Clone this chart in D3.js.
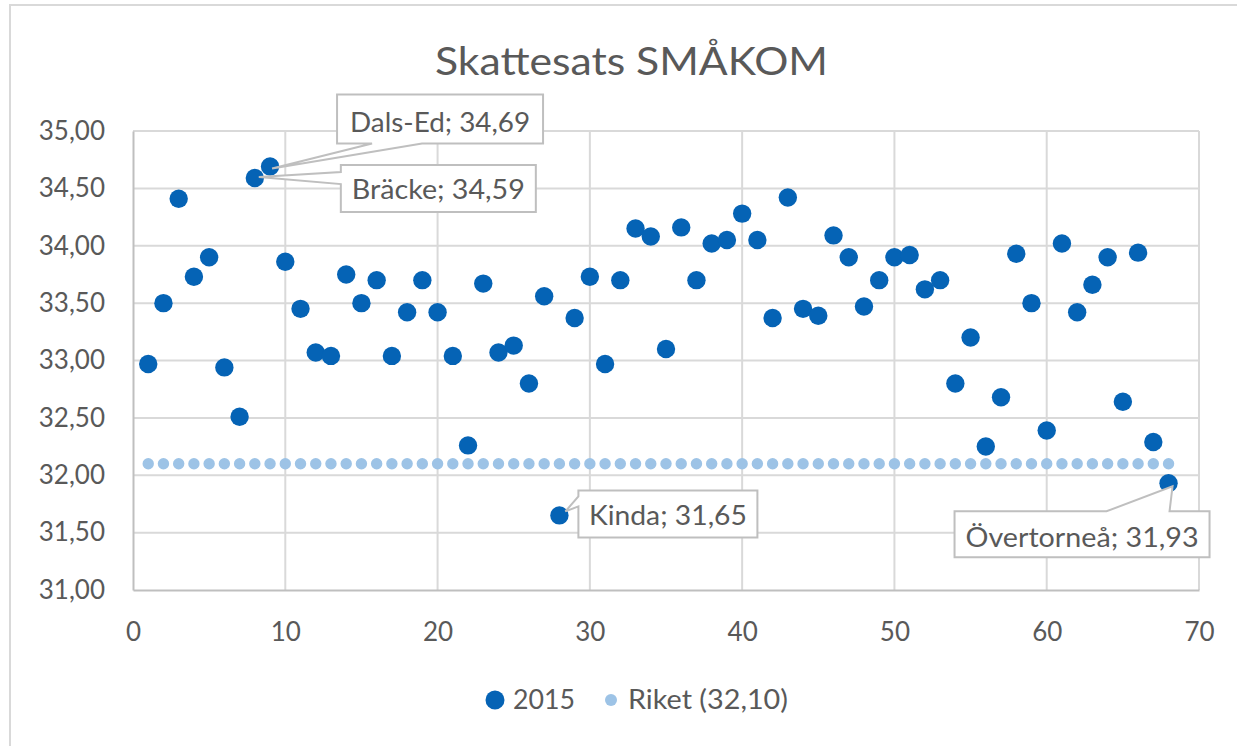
<!DOCTYPE html>
<html><head><meta charset="utf-8">
<script src="https://cdn.jsdelivr.net/npm/d3@7/dist/d3.min.js"></script>
<style>
body{margin:0;background:#fff;}
text{font-family:Lato,"Open Sans",sans-serif;fill:#595959;}
</style>
</head><body>
<svg id="chart" width="1237" height="746"></svg>
<script>
// ---------- data ----------
const titleText = "Skattesats SMÅKOM";
const xIndex = [1,2,3,4,5,6,7,8,9,10,11,12,13,14,15,16,17,18,19,20,21,22,23,24,25,26,27,28,29,30,31,32,33,34,
  35,36,37,38,39,40,41,42,43,44,45,46,47,48,49,50,51,52,53,54,55,56,57,58,59,60,61,62,63,64,65,66,67,68];
const series2015 = [32.97,33.50,34.41,33.73,33.90,32.94,32.51,34.59,34.69,33.86,33.45,33.07,33.04,33.75,33.50,33.70,33.04,33.42,
  33.70,33.42,33.04,32.26,33.67,33.07,33.13,32.80,33.56,31.65,33.37,33.73,32.97,33.70,34.15,34.08,33.10,34.16,33.70,
  34.02,34.05,34.28,34.05,33.37,34.42,33.45,33.39,34.09,33.90,33.47,33.70,33.90,33.92,33.62,33.70,32.80,33.20,32.25,
  32.68,33.93,33.50,32.39,34.02,33.42,33.66,33.90,32.64,33.94,32.29,31.93];
const seriesRiket = [32.10,32.10,32.10,32.10,32.10,32.10,32.10,32.10,32.10,32.10,32.10,32.10,32.10,32.10,32.10,32.10,32.10,
  32.10,32.10,32.10,32.10,32.10,32.10,32.10,32.10,32.10,32.10,32.10,32.10,32.10,32.10,32.10,32.10,32.10,32.10,32.10,32.10,
  32.10,32.10,32.10,32.10,32.10,32.10,32.10,32.10,32.10,32.10,32.10,32.10,32.10,32.10,32.10,32.10,32.10,32.10,32.10,32.10,
  32.10,32.10,32.10,32.10,32.10,32.10,32.10,32.10,32.10,32.10,32.10];
const seriesNames = ["2015", "Riket (32,10)"];
const xTicks = [0,10,20,30,40,50,60,70];
const yTicks = [31,31.5,32,32.5,33,33.5,34,34.5,35];
const labelIndex = [9, 8, 28, 68];
const labelNames = ["Dals-Ed", "Bräcke", "Kinda", "Övertorneå"];

// ---------- layout ----------
const svg = d3.select("#chart");
const fmt = v => d3.format(".2f")(v).replace(".", ",");
const x = d3.scaleLinear().domain([0,70]).range([133,1199]);
const y = d3.scaleLinear().domain([31,35]).range([590,131]);
const C_DARK = "#0563b5", C_LIGHT = "#9dc3e6";

// outer chart border
svg.append("rect").attr("x",10).attr("y",5).attr("width",1260).attr("height",780)
  .attr("fill","#fff").attr("stroke","#d9d9d9").attr("stroke-width",2);

// title
svg.append("text").attr("x",631.5).attr("y",75).attr("text-anchor","middle")
  .attr("font-size",39).attr("textLength",393).attr("lengthAdjust","spacingAndGlyphs")
  .text(titleText);

// gridlines
const grid = svg.append("g");
grid.selectAll("line.h").data(yTicks.slice(1)).join("line")
  .attr("x1",x(0)).attr("x2",x(70)).attr("y1",d=>y(d)).attr("y2",d=>y(d))
  .attr("stroke","#d9d9d9").attr("stroke-width",2);
grid.selectAll("line.v").data(xTicks.slice(1)).join("line")
  .attr("y1",y(31)).attr("y2",y(35)).attr("x1",d=>x(d)).attr("x2",d=>x(d))
  .attr("stroke","#d9d9d9").attr("stroke-width",2);

// axes
const ax = svg.append("g").attr("transform",`translate(0,${y(31)})`)
  .call(d3.axisBottom(x).tickValues(xTicks).tickSize(0).tickPadding(33).tickFormat(d3.format("d")));
const ay = svg.append("g").attr("transform",`translate(${x(0)},0)`)
  .call(d3.axisLeft(y).tickValues(yTicks).tickSize(0).tickPadding(28).tickFormat(fmt));
[ax, ay].forEach(g => {
  g.select(".domain").attr("stroke","#bfbfbf").attr("stroke-width",2);
  g.selectAll("text").attr("font-size",26).attr("fill","#595959")
    .style("font-family","Lato, 'Open Sans', sans-serif");
});

// Riket series
svg.append("g").selectAll("circle").data(xIndex).join("circle")
  .attr("cx",(d)=>x(d)).attr("cy",(d,i)=>y(seriesRiket[i])).attr("r",5.7).attr("fill",C_LIGHT);

// 2015 series
svg.append("g").selectAll("circle").data(xIndex).join("circle")
  .attr("cx",(d)=>x(d)).attr("cy",(d,i)=>y(series2015[i])).attr("r",9.2).attr("fill",C_DARK);

// data label callouts (box offsets relative to point)
const calloutLayout = [
  {dx:67, dy:-72, w:206, h:49, side:"bottom", a:35, b:85, tx:2, ty:2, tw:180, base:37},
  {dx:86, dy:-13, w:195, h:47, side:"left", a:7, b:19, tx:4, ty:-1, tw:173, base:34},
  {dx:19, dy:-25, w:179, h:47, side:"left", a:6, b:16, tx:6, ty:-4, tw:158, base:35},
  {dx:-214, dy:28, w:255, h:46, side:"top", a:152, b:215, tx:4, ty:3, tw:233, base:36}
];
const cg = svg.append("g");
labelIndex.forEach((idx, k) => {
  const L = calloutLayout[k];
  const px = x(xIndex[idx-1]), py = y(series2015[idx-1]);
  const l = px + L.dx, t = py + L.dy, r = l + L.w, b = t + L.h;
  const tipX = px + L.tx, tipY = py + L.ty;
  let p;
  if (L.side === "bottom")
    p = `M${l},${t}H${r}V${b}H${l+L.b}L${tipX},${tipY}L${l+L.a},${b}H${l}Z`;
  else if (L.side === "left")
    p = `M${l},${t}H${r}V${b}H${l}V${t+L.b}L${tipX},${tipY}L${l},${t+L.a}Z`;
  else
    p = `M${l},${t}H${l+L.a}L${tipX},${tipY}L${l+L.b},${t}H${r}V${b}H${l}Z`;
  cg.append("path").attr("d",p).attr("fill","#fff").attr("stroke","#bfbfbf").attr("stroke-width",2);
  cg.append("text").attr("x",(l+r)/2).attr("y",t+L.base).attr("text-anchor","middle")
    .attr("font-size",27).attr("textLength",L.tw).attr("lengthAdjust","spacingAndGlyphs")
    .text(`${labelNames[k]}; ${fmt(series2015[idx-1])}`);
});

// legend
const lg = svg.append("g");
lg.append("circle").attr("cx",495).attr("cy",700).attr("r",9.5).attr("fill",C_DARK);
lg.append("text").attr("x",513).attr("y",709).attr("font-size",26)
  .attr("textLength",62).attr("lengthAdjust","spacingAndGlyphs").text(seriesNames[0]);
lg.append("circle").attr("cx",611).attr("cy",700).attr("r",6).attr("fill",C_LIGHT);
lg.append("text").attr("x",628).attr("y",709).attr("font-size",26)
  .attr("textLength",160).attr("lengthAdjust","spacingAndGlyphs").text(seriesNames[1]);
</script>
</body></html>
